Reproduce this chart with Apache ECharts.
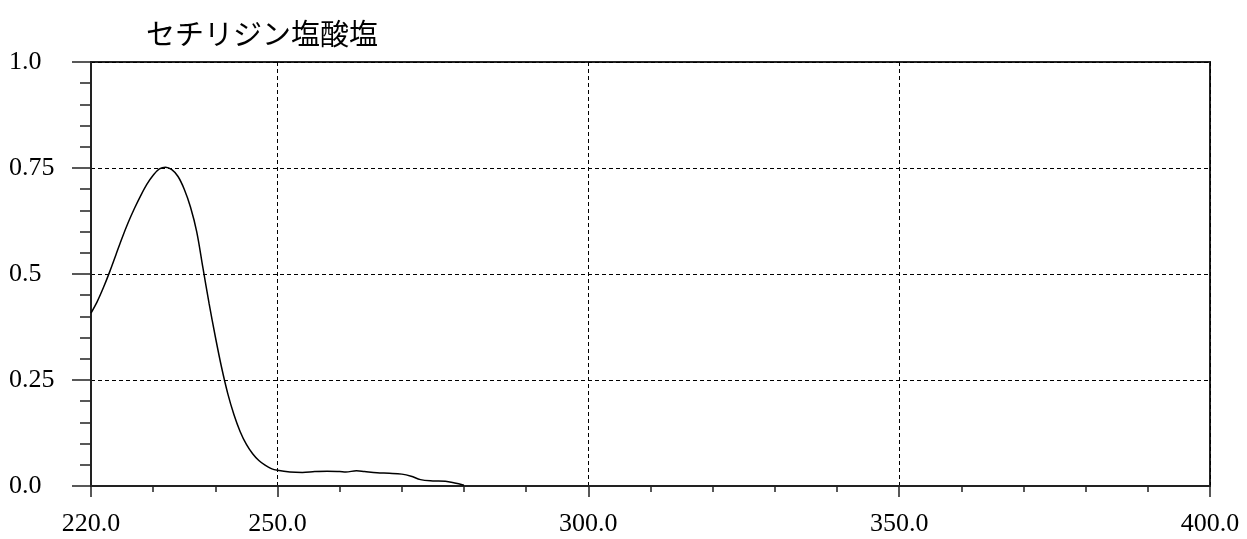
<!DOCTYPE html>
<html>
<head>
<meta charset="utf-8">
<script src="https://cdn.jsdelivr.net/npm/echarts@6/dist/echarts.min.js"></script>
<style>html,body{margin:0;padding:0;background:#fff;}#c{width:1247px;height:539px;}</style>
</head>
<body>
<div id="c"></div>
<script>
const titleText = 'セチリジン塩酸塩';
const wavelength = [220, 221, 222, 223, 224, 225, 226, 227, 228, 229, 230, 231, 232, 233, 234, 235, 236, 237, 238, 239, 240, 241, 242, 243, 244, 245, 246, 247, 248, 249, 250, 252, 254, 256, 258, 260, 261, 262.7, 264, 266, 268, 270, 271.5, 273, 275, 277, 278.5, 280];
const absorbance = [0.408, 0.435, 0.468, 0.505, 0.545, 0.585, 0.622, 0.655, 0.685, 0.712, 0.733, 0.748, 0.752, 0.746, 0.73, 0.70, 0.658, 0.60, 0.515, 0.43, 0.352, 0.28, 0.218, 0.168, 0.128, 0.098, 0.076, 0.06, 0.049, 0.041, 0.037, 0.033, 0.032, 0.034, 0.035, 0.034, 0.033, 0.036, 0.034, 0.031, 0.030, 0.028, 0.023, 0.015, 0.012, 0.011, 0.007, 0.002];
const xMajorTicks = [220, 250, 300, 350, 400];
const yLabels = {0: '0.0', 0.25: '0.25', 0.5: '0.5', 0.75: '0.75', 1: '1.0'};

const seriesData = wavelength.map((w, i) => [w, absorbance[i]]);
const labelFont = {fontFamily: 'Liberation Serif', fontSize: 26, color: '#000'};
const chart = echarts.init(document.getElementById('c'), null, {renderer: 'canvas'});
chart.setOption({
  animation: false,
  backgroundColor: '#fff',
  title: {
    text: titleText, left: 141, top: 14,
    textStyle: {fontFamily: 'Noto Sans CJK JP', fontSize: 29, fontWeight: 'normal', color: '#000'}
  },
  grid: {left: 91, right: 37, top: 62, bottom: 53, show: true, borderColor: '#222', borderWidth: 2, backgroundColor: 'transparent'},
  xAxis: [
    {
      type: 'value', min: 220, max: 400, interval: 10,
      axisLine: {show: true, lineStyle: {color: '#222', width: 2}},
      axisTick: {show: true, length: 6, lineStyle: {color: '#222', width: 1.5}},
      axisLabel: {show: false},
      splitLine: {show: false}
    },
    {
      type: 'value', min: 220, max: 400, position: 'bottom',
      axisLine: {show: false},
      axisTick: {show: true, length: 11, customValues: xMajorTicks, lineStyle: {color: '#222', width: 1.5}},
      axisLabel: {show: true, customValues: xMajorTicks, margin: 25, formatter: v => v.toFixed(1), ...labelFont},
      splitLine: {show: true, lineStyle: {color: '#000', width: 1, type: [4, 3]}}
    }
  ],
  yAxis: {
    type: 'value', min: 0, max: 1, interval: 0.25,
    axisLine: {show: true, lineStyle: {color: '#222', width: 2}},
    axisTick: {show: true, length: 19, lineStyle: {color: '#222', width: 1.5}},
    minorTick: {show: true, splitNumber: 5, length: 11, lineStyle: {color: '#222', width: 1.5}},
    axisLabel: {show: true, align: 'left', margin: 82, formatter: v => yLabels[v] !== undefined ? yLabels[v] : '', ...labelFont},
    splitLine: {show: true, lineStyle: {color: '#000', width: 1, type: [4, 3]}}
  },
  series: [{
    type: 'line', xAxisIndex: 0, data: seriesData, smooth: 0.35, symbol: 'none',
    lineStyle: {color: '#000', width: 1.5}
  }]
});
</script>
</body>
</html>
